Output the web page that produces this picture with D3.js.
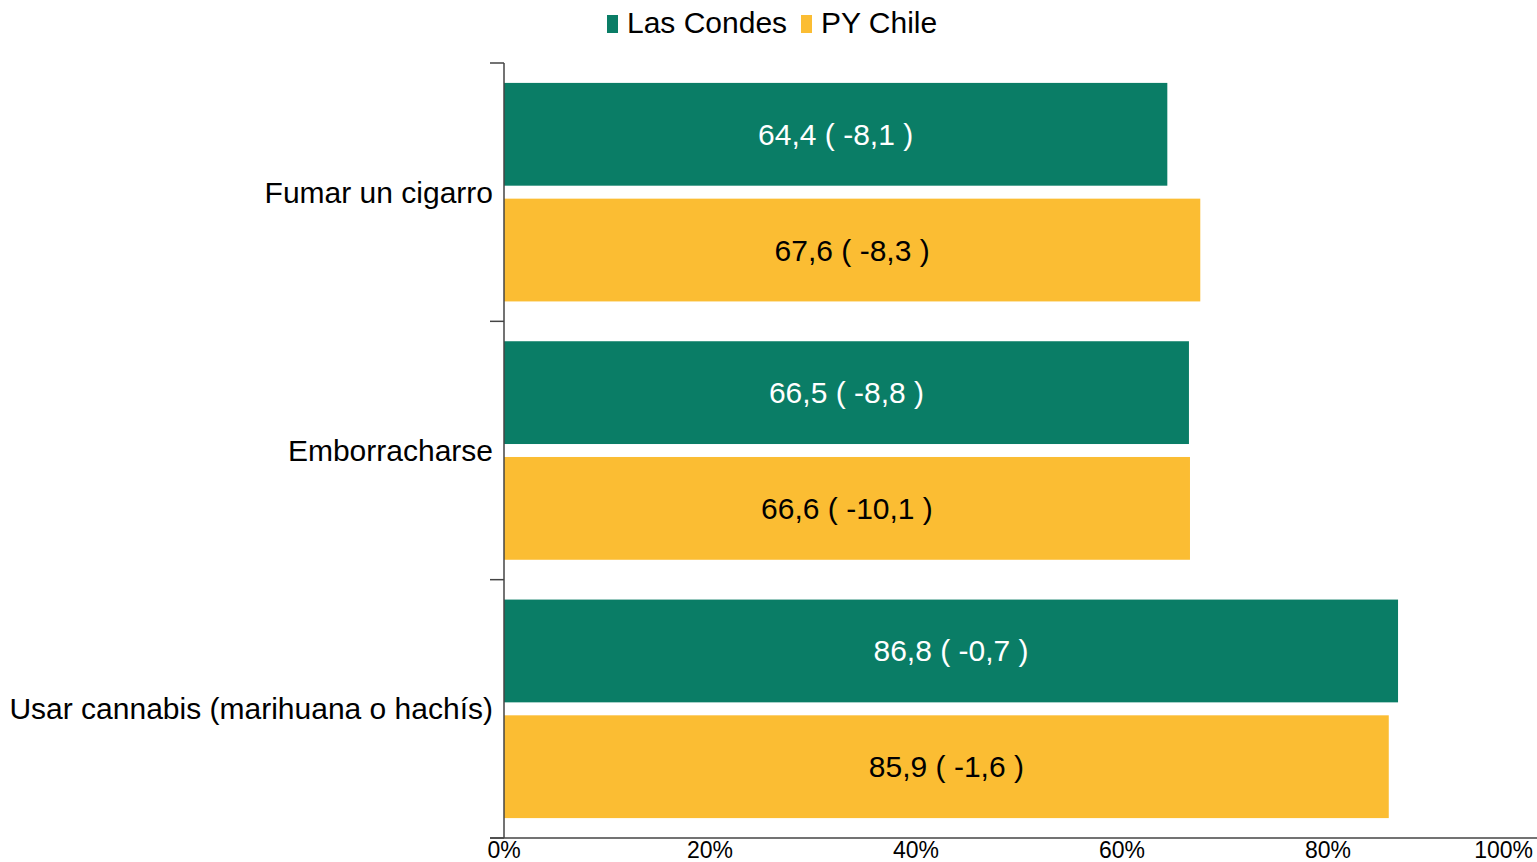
<!DOCTYPE html>
<html><head><meta charset="utf-8">
<script src="https://cdn.jsdelivr.net/npm/d3@7"></script>
<style>body{margin:0;background:#fff;}svg{display:block;font-family:"Liberation Sans",Arial,sans-serif;}</style>
</head><body>
<svg id="c" width="1537" height="862"></svg>
<script>
const categories = ["Fumar un cigarro", "Emborracharse", "Usar cannabis (marihuana o hachís)"];
const seriesNames = ["Las Condes", "PY Chile"];
const lasCondes = [64.4, 66.5, 86.8];
const lasCondesDiff = ["-8,1", "-8,8", "-0,7"];
const pyChile = [67.6, 66.6, 85.9];
const pyChileDiff = ["-8,3", "-10,1", "-1,6"];
const xTicks = [0, 20, 40, 60, 80, 100];
const colors = ["#0a7d66", "#fbbd33"];
const textColors = ["#ffffff", "#000000"];

const svg = d3.select("#c");
const x = d3.scaleLinear().domain([0, 100]).range([504, 1534]);
const y0 = d3.scaleBand().domain(categories).range([63, 838]).padding(0);
const y1 = d3.scaleBand().domain(seriesNames).range([0, y0.bandwidth()]).paddingInner(0.112).paddingOuter(0.172);

const fmt = v => v.toFixed(1).replace(".", ",");
const rows = [];
categories.forEach((c, i) => {
  rows.push({cat: c, s: seriesNames[0], v: lasCondes[i], d: lasCondesDiff[i], k: 0});
  rows.push({cat: c, s: seriesNames[1], v: pyChile[i], d: pyChileDiff[i], k: 1});
});

svg.selectAll("rect.bar").data(rows).join("rect").attr("class", "bar")
  .attr("x", x(0)).attr("y", d => y0(d.cat) + y1(d.s))
  .attr("width", d => x(d.v) - x(0)).attr("height", y1.bandwidth())
  .attr("fill", d => colors[d.k]);

svg.selectAll("text.lbl").data(rows).join("text").attr("class", "lbl")
  .attr("x", d => (x(0) + x(d.v)) / 2).attr("y", d => y0(d.cat) + y1(d.s) + y1.bandwidth() / 2)
  .attr("dy", "0.35em").attr("text-anchor", "middle").attr("font-size", 30)
  .attr("fill", d => textColors[d.k]).text(d => fmt(d.v) + " ( " + d.d + " )");

// y axis
const yAxis = svg.append("g");
yAxis.append("line").attr("x1", 504).attr("x2", 504).attr("y1", 63).attr("y2", 838).attr("stroke", "#444").attr("stroke-width", 1.5);
const yTickPos = categories.map(c => y0(c)).concat([838]);
yAxis.selectAll("line.t").data(yTickPos).join("line").attr("class", "t")
  .attr("x1", 490).attr("x2", 504).attr("y1", d => d).attr("y2", d => d).attr("stroke", "#444").attr("stroke-width", 1.5);
yAxis.selectAll("text").data(categories).join("text")
  .attr("x", 493).attr("y", d => y0(d) + y0.bandwidth() / 2).attr("dy", "0.35em")
  .attr("text-anchor", "end").attr("font-size", 30).attr("fill", "#000").text(d => d);

// x axis
svg.append("line").attr("x1", 490).attr("x2", 1537).attr("y1", 838).attr("y2", 838).attr("stroke", "#444").attr("stroke-width", 1.5);
svg.selectAll("text.xt").data(xTicks).join("text").attr("class", "xt")
  .attr("x", d => d === 100 ? 1533 : x(d)).attr("y", 858)
  .attr("text-anchor", d => d === 100 ? "end" : "middle").attr("font-size", 23).attr("fill", "#000")
  .text(d => d + "%");

// legend
const leg = svg.append("g");
const legX = [607, 801];
seriesNames.forEach((s, i) => {
  leg.append("rect").attr("x", legX[i]).attr("y", 15).attr("width", 11).attr("height", 18).attr("fill", colors[i]);
  leg.append("text").attr("x", legX[i] + 20).attr("y", 33).attr("font-size", 30).attr("fill", "#000").text(s);
});
</script>
</body></html>
